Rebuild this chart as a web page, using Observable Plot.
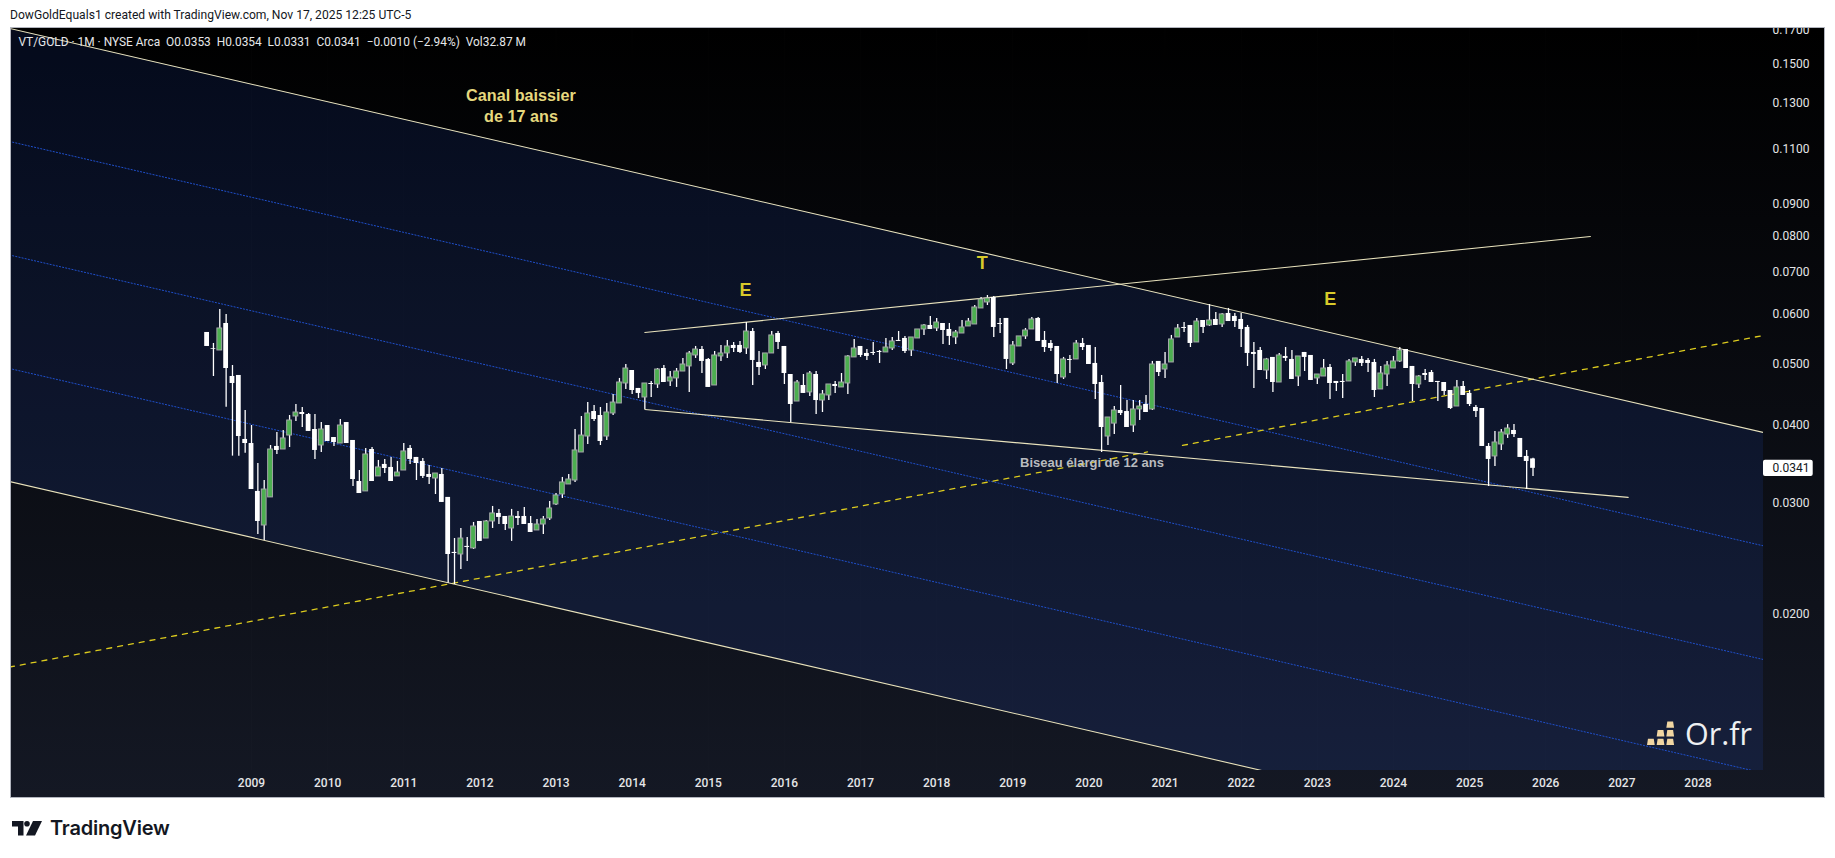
<!DOCTYPE html>
<html>
<head>
<meta charset="utf-8">
<script src="https://cdn.jsdelivr.net/npm/d3@7"></script>
<script src="https://cdn.jsdelivr.net/npm/@observablehq/plot@0.6"></script>
<style>
  html,body{margin:0;padding:0;background:#fff;width:1835px;height:858px;overflow:hidden;font-family:Roboto,sans-serif}
  #head{position:absolute;left:10px;top:7px;font:12.1px/16px Roboto,sans-serif;color:#131722;white-space:nowrap}
  #panel{position:absolute;left:11px;top:28px;width:1813px;height:769px;overflow:hidden;background:linear-gradient(180deg,#000 0%,#141824 100%);box-shadow:0 0 0 1px #b2b5be}
  #panel svg{position:absolute;left:-2px;top:-1px;background:transparent;display:block;max-width:none !important;width:1815px !important;height:770px !important}
  #orfr{position:absolute;left:1647px;top:713px;height:40px;display:flex;align-items:center;gap:9px;color:#eef0f2;font:400 30.500px/40px "Open Sans",sans-serif}
  #tv{position:absolute;left:12px;top:815px;display:flex;align-items:center;gap:8px;color:#131722;font:600 20px/26px Inter,sans-serif;letter-spacing:-.2px}
</style>
</head>
<body>
<div id="head">DowGoldEquals1 created with TradingView.com, Nov 17, 2025 12:25 UTC-5</div>
<div id="panel"></div>
<div id="orfr">
  <svg width="29" height="25" viewBox="0 0 30 25" fill="#f1d6a2">
    <path d="M1 18h6l1 6.500H0zM11 18h6l1 6.500h-8zM21 18h6l1 6.500h-8zM11 9h6l1 6.500h-8zM21 9h6l1 6.500h-8zM21 0h6l1 6.500h-8z"/>
  </svg>
  <span>Or.fr</span>
</div>
<div id="tv">
  <svg width="30" height="15" viewBox="0 0 30 15" fill="#131722">
    <path d="M0 0h11.500v14.500H6V5.500H0z"/><circle cx="15" cy="2.800" r="2.800"/><path d="M21 0h9l-7 14.500h-9z"/>
  </svg>
  <span>TradingView</span>
</div>
<script>
// VT/GOLD monthly candles, June 2008 to November 2025
const startYear = 2008, startMonth = 5;
const opens = [
 .05613,.05287,.05254,.05801,.04776,.04794,.03791,
 .03735,.03133,.02765,.03065,.03695,.03654,.03846,.04124,.04185,.04154,.03932,.03708,
 .03990,.03818,.03735,.04034,.03777,.03249,.03133,.03654,.03310,.03459,.03421,.03310,
 .03383,.03668,.03549,.03497,.03334,.03285,.03334,.03065,.02505,.02486,.02561,.02542,
 .02806,.02636,.02806,.02890,.02858,.02735,.02858,.02858,.02785,.02715,.02775,.02837,
 .02987,.03098,.03214,.03261,.03614,.03832,.04200,.04139,.03832,.04170,.04326,.04655,
 .04882,.04571,.04422,.04655,.04638,.04918,.04690,.04742,.04864,.04955,.05159,.05273,
 .05084,.04621,.05140,.05197,.05352,.05352,.05293,.05633,.05028,.04973,.05197,.05592,
 .05332,.04811,.04357,.04621,.04505,.04811,.04373,.04455,.04638,.04588,.04655,.05122,
 .05332,.05197,.05216,.05235,.05216,.05293,.05451,.05491,.05254,.05491,.05675,.05759,
 .05696,.05801,.05675,.05511,.05592,.05738,.05780,.06130,.06266,.06381,.05801,.05909,
 .05010,.05332,.05532,.05675,.05909,.05451,.05391,.05332,.04759,.05084,.05084,.05391,
 .05352,.05010,.04672,.03832,.04018,.04216,.04200,.03990,.04232,.04310,.04232,.05047,
 .04900,.05028,.05511,.05717,.05759,.05411,.05865,.05759,.05887,.05780,.06018,.05953,
 .05887,.05717,.05216,.05254,.04882,.05122,.04672,.05140,.05084,.04776,.05216,.05159,
 .04742,.04776,.04936,.04690,.04690,.04690,.05028,.05084,.05065,.05028,.04554,.04811,
 .04918,.05047,.05273,.04955,.04638,.04829,.04846,.04690,.04672,.04537,.04278,.04604,
 .04488,.04263,.04247,.03695,.03562,.03722,.03860,.03918,.03805,.03562,.03530];
const highs = [
 .05613,.05391,.06107,.05997,.04973,.04794,.04216,
 .03990,.03471,.03261,.03708,.03889,.03918,.04139,.04310,.04263,.04170,.04154,.04034,
 .03990,.03818,.04079,.04034,.03777,.03383,.03668,.03681,.03510,.03523,.03549,.03497,
 .03735,.03708,.03549,.03536,.03446,.03346,.03408,.03065,.02636,.02735,.02646,.02796,
 .02806,.02816,.02965,.02933,.02858,.02933,.02911,.02954,.02858,.02827,.02858,.03020,
 .03109,.03298,.03334,.03932,.04124,.04341,.04294,.04263,.04326,.04472,.04742,.04991,
 .04882,.04571,.04655,.04690,.04918,.04973,.04864,.04918,.05103,.05235,.05332,.05332,
 .05103,.05235,.05352,.05451,.05411,.05431,.05822,.05696,.05235,.05197,.05633,.05633,
 .05332,.04811,.04707,.04811,.04864,.04864,.04537,.04638,.04690,.04829,.05159,.05471,
 .05332,.05273,.05411,.05254,.05491,.05511,.05633,.05531,.05511,.05675,.05780,.05953,
 .05909,.05801,.05801,.05654,.05865,.05909,.06197,.06381,.06428,.06405,.05909,.05909,
 .05431,.05532,.05696,.05931,.05931,.05633,.05451,.05332,.05122,.05159,.05451,.05491,
 .05352,.05312,.04794,.04109,.04278,.04621,.04373,.04373,.04373,.04455,.05047,.05047,
 .05216,.05552,.05780,.05822,.05759,.05909,.05865,.06220,.06040,.06018,.06130,.06018,
 .06018,.05759,.05411,.05312,.05103,.05122,.05197,.05312,.05254,.05140,.05216,.05159,
 .04811,.05084,.04991,.04690,.04811,.05084,.05103,.05140,.05103,.05084,.04955,.05047,
 .05140,.05312,.05273,.04955,.04794,.04900,.04882,.04690,.04672,.04537,.04707,.04690,
 .04537,.04294,.04247,.03735,.03904,.03932,.04003,.04003,.03805,.03641,.03540];
const lows = [
 .05332,.04776,.05254,.04267,.03566,.03566,.03605,
 .03155,.02676,.02617,.03065,.03588,.03654,.03681,.04049,.03961,.03904,.03523,.03614,
 .03763,.03695,.03735,.03735,.03190,.03109,.03133,.03249,.03310,.03346,.03249,.03310,
 .03383,.03459,.03261,.03285,.03214,.03098,.03009,.02238,.02227,.02353,.02423,.02532,
 .02608,.02636,.02735,.02775,.02715,.02608,.02765,.02775,.02695,.02715,.02676,.02816,
 .02976,.03053,.03214,.03238,.03614,.03722,.04049,.03708,.03777,.04139,.04326,.04554,
 .04472,.04406,.04232,.04422,.04571,.04672,.04604,.04588,.04864,.04505,.05103,.04829,
 .04588,.04621,.05047,.05103,.05216,.05197,.05178,.04621,.04794,.04900,.05197,.05273,
 .04638,.04034,.04357,.04488,.04439,.04154,.04185,.04373,.04488,.04588,.04472,.05122,
 .05122,.05065,.05159,.05010,.05216,.05254,.05431,.05197,.05140,.05491,.05552,.05675,
 .05633,.05372,.05352,.05372,.05592,.05738,.05780,.06130,.06197,.05511,.05592,.04900,
 .04973,.05332,.05471,.05675,.05431,.05216,.05235,.04655,.04724,.04829,.05084,.05254,
 .04991,.04390,.03614,.03708,.03860,.04139,.03961,.03889,.04064,.04185,.04216,.04776,
 .04742,.05028,.05511,.05613,.05312,.05411,.05592,.05738,.05759,.05717,.05843,.05717,
 .05312,.04955,.04571,.04882,.04724,.04505,.04672,.05047,.04724,.04604,.04864,.04707,
 .04638,.04776,.04390,.04521,.04406,.04690,.04955,.04955,.04846,.04422,.04554,.04604,
 .04918,.05028,.04918,.04357,.04571,.04707,.04672,.04357,.04455,.04232,.04278,.04455,
 .04278,.04109,.03695,.03190,.03433,.03641,.03805,.03818,.03549,.03155,.03310];
const closes = [
 .05332,.05273,.05696,.04918,.04655,.03832,.03735,
 .03155,.02806,.03155,.03654,.03641,.03805,.04064,.04185,.04154,.03904,.03641,.03932,
 .03763,.03749,.03990,.03735,.03273,.03109,.03588,.03249,.03421,.03408,.03249,.03358,
 .03628,.03523,.03471,.03310,.03298,.03346,.03009,.02486,.02495,.02636,.02551,.02755,
 .02608,.02806,.02890,.02848,.02775,.02858,.02837,.02775,.02695,.02775,.02827,.02943,
 .03087,.03238,.03273,.03641,.03846,.04170,.04079,.03763,.04185,.04341,.04672,.04918,
 .04537,.04488,.04655,.04638,.04900,.04672,.04759,.04864,.04991,.05197,.05273,.05047,
 .04588,.05159,.05197,.05332,.05293,.05216,.05633,.05065,.04936,.05197,.05552,.05411,
 .04829,.04310,.04672,.04488,.04829,.04373,.04472,.04638,.04604,.04672,.05140,.05293,
 .05159,.05140,.05197,.05216,.05312,.05431,.05431,.05235,.05511,.05675,.05759,.05675,
 .05822,.05654,.05532,.05613,.05717,.05843,.06152,.06335,.06358,.05717,.05780,.05084,
 .05352,.05532,.05654,.05887,.05431,.05312,.05293,.04811,.05084,.05065,.05391,.05312,
 .04991,.04638,.03961,.04109,.04216,.04170,.03961,.04232,.04278,.04185,.04991,.04846,
 .04991,.05471,.05696,.05696,.05391,.05843,.05717,.05865,.05759,.05997,.05843,.05843,
 .05675,.05197,.05178,.04882,.05084,.04672,.05159,.05103,.04724,.05140,.05122,.04707,
 .04811,.04918,.04655,.04655,.04672,.05047,.05103,.05010,.05010,.04537,.04829,.04973,
 .05047,.05254,.04918,.04638,.04776,.04794,.04672,.04672,.04521,.04247,.04588,.04455,
 .04310,.04200,.03695,.03523,.03749,.03889,.03946,.03860,.03549,.03497,.03410];

// Scales and axes
const xDomain = [2005.821, 2028.861];
const yDomain = [0.011256, 0.1718];
const yearTicks = [2009,2010,2011,2012,2013,2014,2015,2016,2017,2018,2019,2020,2021,2022,2023,2024,2025,2026,2027,2028];
const priceTicks = [0.17,0.15,0.13,0.11,0.09,0.08,0.07,0.06,0.05,0.04,0.03,0.02];

// Drawn trend lines: [time, price] at each end
const channelStart = 2005.821, channelEnd = 2028.861;
const channelTop = [0.1712, 0.03890];
const channelMid1 = [0.1131, 0.02566];
const channelMid2 = [0.07458, 0.01691];
const channelMid3 = [0.04918, 0.01115];
const channelBottom = [0.03249, 0.00736];
const wedgeUpper = [[2014.166, 0.05613], [2026.588, 0.07982]];
const wedgeLower = [[2014.166, 0.04232], [2027.083, 0.03065]];
const dashedA = [[2005.821, 0.01645], [2020.769, 0.03621]];
const dashedB = [[2021.229, 0.03709], [2028.861, 0.05552]];

// Annotations
const notes = [
  {t: 2012.54, p: 0.1295, text: "Canal baissier\nde 17 ans", size: 16.2, fill: "#e6d87e"},
  {t: 2015.49, p: 0.06596, text: "E", size: 18, fill: "#d8ca2a"},
  {t: 2018.60, p: 0.07284, text: "T", size: 18, fill: "#d8ca2a"},
  {t: 2023.17, p: 0.06382, text: "E", size: 18, fill: "#d8ca2a"},
  {t: 2020.04, p: 0.03497, text: "Biseau élargi de 12 ans", size: 13, fill: "#b9bbbf"}
];
const legendText = "VT/GOLD · 1M · NYSE Arca\u00A0\u00A0O0.0353\u00A0\u00A0H0.0354\u00A0\u00A0L0.0331\u00A0\u00A0C0.0341\u00A0\u00A0\u22120.0010 (\u22122.94%)\u00A0\u00A0Vol32.87\u00A0M";
const lastPrice = 0.0341, lastTagTop = 0.03512, lastTagBottom = 0.03308, lastTagEnd = 2029.514;

const candles = opens.map((o, i) => ({
  t: startYear + (startMonth + i) / 12,
  o, h: highs[i], l: lows[i], c: closes[i]
}));
const up = candles.filter(d => d.c >= d.o);
const down = candles.filter(d => d.c < d.o);
const halfBody = 0.0315;
const solid = "#e9e3bd";

const chanLine = (v, opts) => Plot.line(
  [[channelStart, v[0]], [channelEnd, v[1]]],
  {x: d => d[0], y: d => d[1], clip: true, ...opts});
const dotted = {stroke: "#1f4fcb", strokeWidth: 1, strokeDasharray: "1.2,2"};
const plain = {stroke: solid, strokeWidth: 1.1};
const dash = {stroke: "#dccb1e", strokeWidth: 1.3, strokeDasharray: "5,6"};
const seg = (pts, opts) => Plot.line(pts, {x: d => d[0], y: d => d[1], clip: true, ...opts});

const chart = Plot.plot({
  width: 1815, height: 770,
  marginLeft: 0, marginRight: 61, marginTop: 0, marginBottom: 27,
  style: {background: "transparent", fontFamily: "Roboto, sans-serif", overflow: "hidden"},
  x: {domain: xDomain},
  y: {type: "log", domain: yDomain},
  marks: [
    Plot.areaY([
      {t: channelStart, a: channelTop[0], b: channelBottom[0]},
      {t: channelEnd, a: channelTop[1], b: channelBottom[1]}
    ], {x: "t", y1: "a", y2: "b", fill: "#2962ff", fillOpacity: 0.11, clip: true}),
    Plot.ruleX(yearTicks, {stroke: "#fff", strokeOpacity: 0.012}),
    chanLine(channelMid1, dotted),
    chanLine(channelMid2, dotted),
    chanLine(channelMid3, dotted),
    seg(dashedA, dash),
    seg(dashedB, dash),
    chanLine(channelTop, plain),
    chanLine(channelBottom, plain),
    seg(wedgeUpper, plain),
    seg(wedgeLower, plain),
    Plot.ruleX(candles, {x: "t", y1: "l", y2: "h", stroke: "#fff", strokeWidth: 1.3}),
    Plot.rect(down, {x1: d => d.t - halfBody, x2: d => d.t + halfBody, y1: "o", y2: "c", fill: "#fff"}),
    Plot.rect(up, {x1: d => d.t - halfBody, x2: d => d.t + halfBody, y1: "o", y2: "c", fill: "#4caf50", stroke: "#a3a6a8", strokeWidth: 1}),
    Plot.text(notes, {x: "t", y: "p", text: "text", fontSize: "size", fill: "fill", fontWeight: 700, lineHeight: 1.35, fontFamily: "Liberation Sans, sans-serif"}),
    Plot.text([legendText], {frameAnchor: "top-left", dx: 9, dy: 15, lineAnchor: "middle", textAnchor: "start", fill: "#e6e7e9", fontSize: 11.9}),
    Plot.axisY({anchor: "right", ticks: priceTicks, tickFormat: d3.format(".4f"), tickSize: 0, tickPadding: 9, color: "#e4e5e7", fontSize: 12, label: null}),
    Plot.axisX({anchor: "bottom", ticks: yearTicks, tickFormat: d => String(d), tickSize: 0, tickPadding: 8, color: "#e4e5e7", fontSize: 12, fontWeight: 500, label: null}),
    Plot.rect([lastPrice], {x1: xDomain[1], x2: lastTagEnd, y1: lastTagBottom, y2: lastTagTop, fill: "#fff", rx: 2}),
    Plot.text([lastPrice], {x: xDomain[1], y: d => d, text: d3.format(".4f"), dx: 9, textAnchor: "start", fill: "#131722", fontSize: 12})
  ]
});
document.getElementById("panel").append(chart);
</script>
</body>
</html>
